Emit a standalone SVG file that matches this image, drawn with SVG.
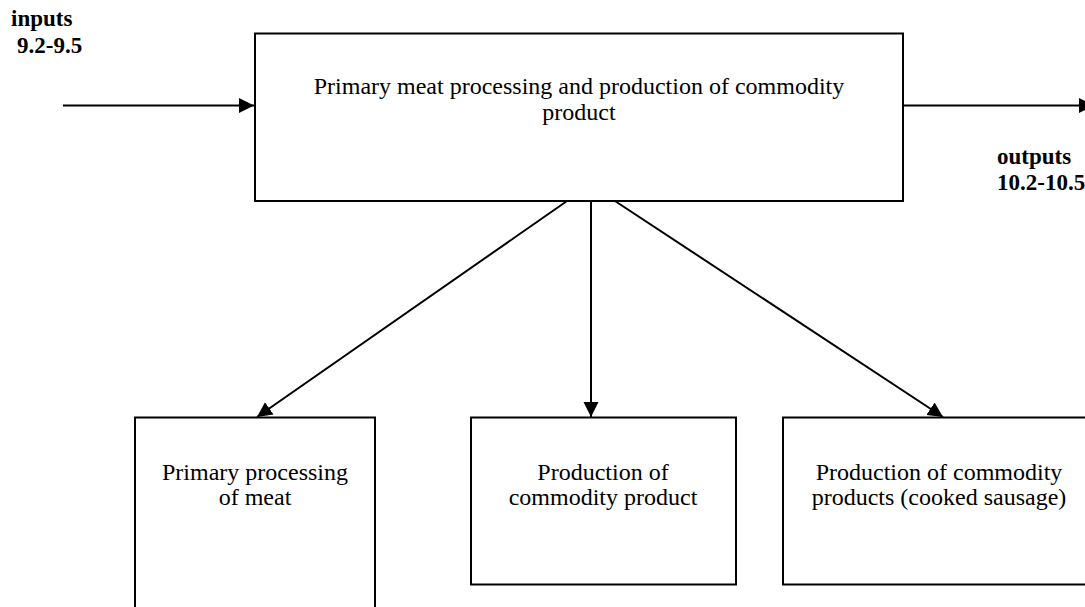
<svg xmlns="http://www.w3.org/2000/svg" width="1085" height="607" viewBox="0 0 1085 607">
<defs>
<marker id="arr" markerWidth="16" markerHeight="16" refX="15" refY="7.5" orient="auto" markerUnits="userSpaceOnUse">
<path d="M0,0 L15,7.5 L0,15 Z" fill="#000"/>
</marker>
<style>
.box{fill:#fff;stroke:#000;stroke-width:2}
.t{font-family:"Liberation Serif","Times New Roman",serif;font-size:24px;fill:#000;text-anchor:middle}
.lb{font-family:"Liberation Serif","Times New Roman",serif;font-size:23px;font-weight:bold;fill:#000}
.c{stroke:#000;stroke-width:2;fill:none;marker-end:url(#arr)}
</style>
</defs>
<rect width="1085" height="607" fill="#fff"/>
<g id="connectors">
<line class="c" x1="63" y1="105.5" x2="254" y2="105.5"/>
<line class="c" x1="903" y1="105.5" x2="1094" y2="105.5"/>
<line class="c" x1="567" y1="201" x2="257" y2="417"/>
<line class="c" x1="591" y1="201" x2="591" y2="417"/>
<line class="c" x1="615" y1="201" x2="943" y2="417"/>
</g>
<g id="main">
<rect class="box" x="255" y="33.5" width="648" height="167.5"/>
<text class="t" x="579" y="94">Primary meat processing and production of commodity</text>
<text class="t" x="579" y="120">product</text>
</g>
<g id="inputs">
<text class="lb" x="11" y="26">inputs</text>
<text class="lb" x="17" y="53">9.2-9.5</text>
</g>
<g id="outputs">
<text class="lb" x="997" y="164">outputs</text>
<text class="lb" x="997" y="190">10.2-10.5</text>
</g>
<g id="box1">
<rect class="box" x="135" y="417.5" width="240" height="200"/>
<text class="t" x="255" y="480">Primary processing</text>
<text class="t" x="255" y="505">of meat</text>
</g>
<g id="box2">
<rect class="box" x="471" y="417.5" width="265" height="167"/>
<text class="t" x="603" y="480">Production of</text>
<text class="t" x="603" y="505">commodity product</text>
</g>
<g id="box3">
<rect class="box" x="783" y="417.5" width="312" height="167"/>
<text class="t" x="939" y="480">Production of commodity</text>
<text class="t" x="939" y="505">products (cooked sausage)</text>
</g>
</svg>
